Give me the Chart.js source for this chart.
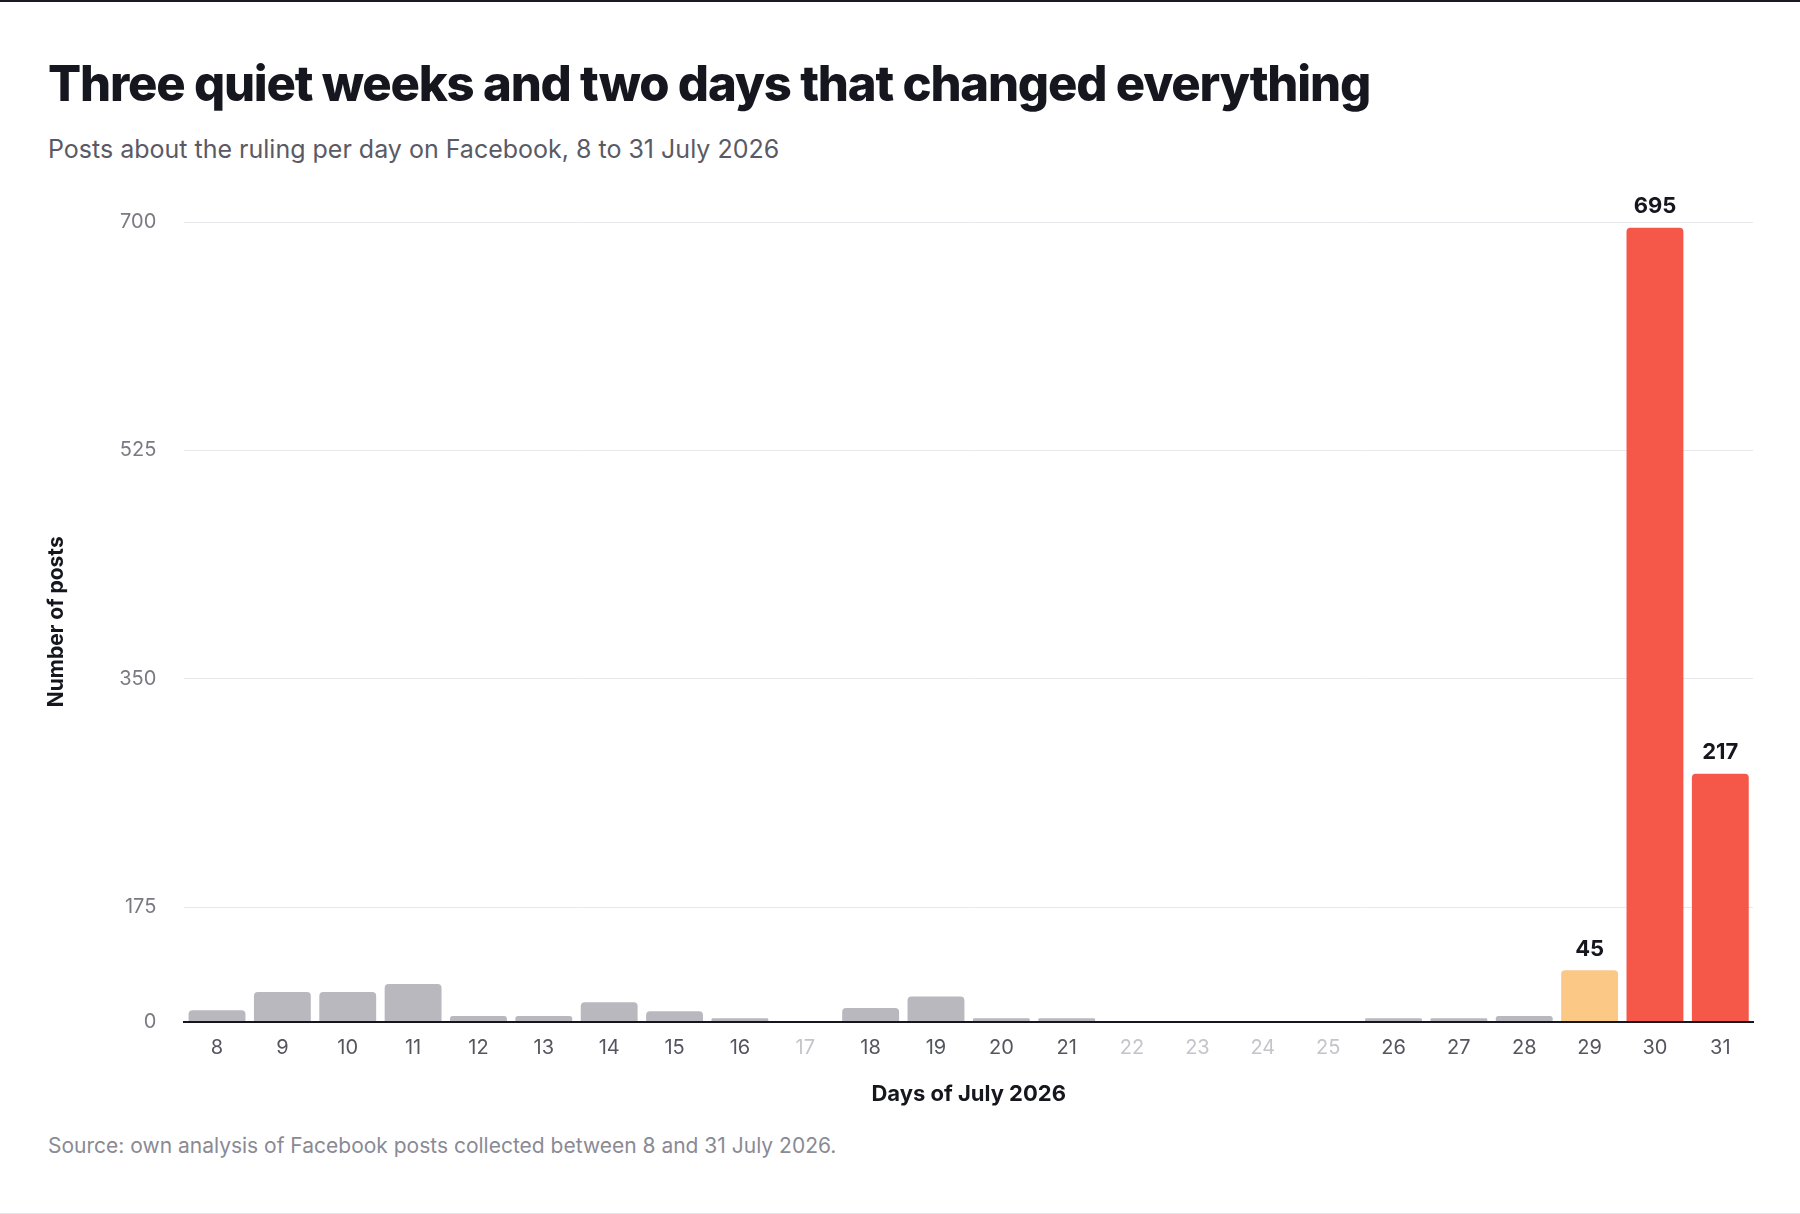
<!DOCTYPE html>
<html>
<head>
<meta charset="utf-8">
<script src="https://cdn.jsdelivr.net/npm/chart.js@4"></script>
<style>
  html, body { margin: 0; padding: 0; background: #fff; }
  body { width: 1800px; height: 1214px; position: relative; font-family: Inter, "Noto Sans", sans-serif; border-top: 2px solid #1a1a24; box-sizing: border-box; }
  h1 { position: absolute; left: 48px; top: 52px; margin: 0; font-size: 49px; font-weight: 800; letter-spacing: -1.2px; color: #16161f; }
  .sub { position: absolute; left: 48px; top: 132px; font-size: 25px; color: #5a5a66; }
  .src { position: absolute; left: 48px; top: 1131px; font-size: 21px; color: #8a8a94; }
  .wrap { position: absolute; left: 40px; top: 180px; width: 1725px; height: 930px; }
  .bottom { position: absolute; left: 0; right: 0; top: 1211px; border-top: 2px solid #e4e4e8; }
</style>
</head>
<body>
<h1>Three quiet weeks and two days that changed everything</h1>
<div class="sub">Posts about the ruling per day on Facebook, 8 to 31 July 2026</div>
<div class="wrap"><canvas id="c"></canvas></div>
<div class="src">Source: own analysis of Facebook posts collected between 8 and 31 July 2026.</div>
<div class="bottom"></div>
<script>
const days = ['8','9','10','11','12','13','14','15','16','17','18','19','20','21','22','23','24','25','26','27','28','29','30','31'];
const posts = [10, 26, 26, 33, 5, 5, 17, 9, 3, 0, 12, 22, 3, 3, 0, 0, 0, 0, 3, 3, 5, 45, 695, 217];
const tickValues = [0, 100, 300, 500, 700];
const tickLabels = ['0', '175', '350', '525', '700'];
const labelledDays = ['29', '30', '31'];

const colors = days.map(d => d === '29' ? '#fbc886' : (d === '30' || d === '31') ? '#f55748' : '#b8b8be');

const valueLabels = {
  id: 'valueLabels',
  afterDatasetsDraw(chart) {
    const ctx = chart.ctx;
    const meta = chart.getDatasetMeta(0);
    ctx.save();
    ctx.font = 'bold 22px Inter, sans-serif';
    ctx.fillStyle = '#16161f';
    ctx.textAlign = 'center';
    ctx.textBaseline = 'bottom';
    days.forEach((d, i) => {
      if (!labelledDays.includes(d)) return;
      const el = meta.data[i];
      ctx.fillText(String(posts[i]), el.x, el.y - 10);
    });
    ctx.restore();
  }
};

new Chart(document.getElementById('c'), {
  type: 'bar',
  data: {
    labels: days,
    datasets: [{
      data: posts,
      backgroundColor: colors,
      borderRadius: { topLeft: 4, topRight: 4 },
      borderSkipped: 'bottom',
      barPercentage: 0.87,
      categoryPercentage: 1
    }]
  },
  options: {
    responsive: true,
    maintainAspectRatio: false,
    animation: false,
    layout: { padding: { top: 35, right: 12 } },
    plugins: { legend: { display: false }, tooltip: { enabled: false } },
    scales: {
      x: {
        grid: { display: false, drawTicks: false },
        border: { color: '#16161f', width: 2 },
        ticks: {
          padding: 14,
          font: { size: 20, family: 'Inter, sans-serif' },
          color: ctx => posts[ctx.index] === 0 ? '#c4c4ca' : '#55555f'
        },
        title: { display: true, text: 'Days of July 2026', font: { size: 22, weight: 'bold', family: 'Inter, sans-serif' }, color: '#16161f', padding: { top: 8 } }
      },
      y: {
        min: 0, max: 700,
        afterBuildTicks: axis => { axis.ticks = tickValues.map(v => ({ value: v })); },
        grid: { color: '#e8e8ec', drawTicks: false },
        border: { display: false },
        ticks: {
          padding: 28,
          font: { size: 20, family: 'Inter, sans-serif' },
          color: '#7a7a84',
          callback: (v, i) => tickLabels[i]
        },
        title: { display: true, text: 'Number of posts', font: { size: 21, weight: 'bold', family: 'Inter, sans-serif' }, color: '#16161f', padding: { bottom: 22 } }
      }
    }
  },
  plugins: [valueLabels]
});
</script>
</body>
</html>
